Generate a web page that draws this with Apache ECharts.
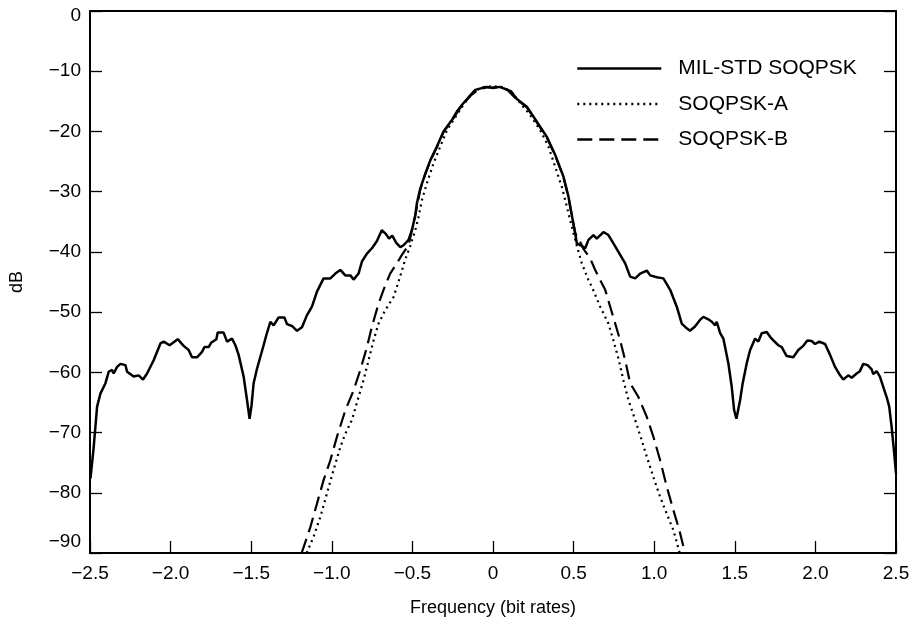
<!DOCTYPE html>
<html>
<head>
<meta charset="utf-8">
<script src="https://cdn.jsdelivr.net/npm/echarts@6/dist/echarts.min.js"></script>
<style>
html,body{margin:0;padding:0;background:#fff;}
#chart{width:913px;height:623px;}
</style>
</head>
<body>
<div id="chart"></div>
<script>
// ---- Data ----
var seriesNames = ['MIL-STD SOQPSK', 'SOQPSK-A', 'SOQPSK-B'];
var xTicks = [-2.5, -2.0, -1.5, -1.0, -0.5, 0, 0.5, 1.0, 1.5, 2.0, 2.5];
var yTicks = [0, -10, -20, -30, -40, -50, -60, -70, -80, -90];

var milFreq = [-2.497,-2.477,-2.456,-2.435,-2.404,-2.384,-2.363,-2.353,-2.332,-2.311,-2.280,-2.270,-2.229,-2.198,-2.171,-2.146,-2.105,-2.063,-2.043,-2.006,-1.956,-1.919,-1.888,-1.867,-1.836,-1.805,-1.790,-1.764,-1.749,-1.716,-1.708,-1.671,-1.650,-1.619,-1.598,-1.578,-1.547,-1.526,-1.510,-1.498,-1.485,-1.464,-1.423,-1.406,-1.381,-1.361,-1.330,-1.294,-1.278,-1.247,-1.216,-1.185,-1.154,-1.123,-1.092,-1.051,-1.009,-0.978,-0.947,-0.916,-0.885,-0.865,-0.834,-0.813,-0.782,-0.751,-0.720,-0.690,-0.665,-0.645,-0.625,-0.600,-0.575,-0.555,-0.524,-0.503,-0.482,-0.472,-0.451,-0.420,-0.389,-0.348,-0.307,-0.255,-0.224,-0.193,-0.141,-0.110,-0.070,-0.040,0.000,0.040,0.070,0.110,0.148,0.210,0.272,0.334,0.386,0.437,0.468,0.489,0.510,0.520,0.550,0.572,0.592,0.623,0.644,0.685,0.716,0.747,0.778,0.820,0.851,0.882,0.913,0.954,0.975,1.016,1.057,1.099,1.140,1.171,1.202,1.222,1.253,1.284,1.305,1.336,1.357,1.378,1.388,1.409,1.429,1.460,1.481,1.496,1.510,1.533,1.549,1.574,1.595,1.626,1.646,1.667,1.698,1.719,1.739,1.770,1.791,1.822,1.863,1.894,1.925,1.950,1.977,1.998,2.024,2.060,2.091,2.122,2.153,2.173,2.204,2.225,2.256,2.276,2.297,2.324,2.349,2.359,2.380,2.400,2.417,2.442,2.458,2.473,2.487,2.500];
var milDb = [-77.6,-72.4,-65.7,-63.5,-61.8,-59.9,-59.6,-60.2,-59.1,-58.6,-58.8,-59.9,-60.7,-60.5,-61.2,-60.2,-58.0,-55.2,-54.9,-55.5,-54.5,-55.6,-56.3,-57.5,-57.5,-56.6,-55.8,-55.8,-55.1,-54.5,-53.4,-53.4,-54.9,-54.4,-55.5,-57.1,-60.7,-64.6,-67.7,-65.5,-61.8,-59.4,-55.5,-53.8,-51.6,-52.2,-50.9,-50.9,-52.0,-52.3,-53.1,-52.5,-50.5,-49.1,-46.6,-44.4,-44.4,-43.6,-43.0,-43.9,-43.9,-44.6,-43.6,-41.6,-40.3,-39.4,-38.2,-36.4,-37.0,-37.8,-37.3,-38.5,-39.2,-38.9,-38.0,-36.4,-33.9,-31.9,-29.5,-27.0,-24.8,-22.5,-20.0,-18.1,-16.7,-15.6,-14.0,-13.1,-12.8,-12.6,-12.8,-12.6,-12.9,-13.3,-14.6,-15.9,-18.4,-20.9,-23.9,-27.5,-30.8,-33.9,-36.9,-38.6,-39.0,-39.4,-38.0,-37.2,-37.8,-36.7,-37.2,-38.6,-40.0,-41.9,-44.1,-44.4,-43.6,-43.1,-43.9,-44.2,-44.4,-46.3,-49.1,-51.9,-52.7,-53.1,-52.4,-51.3,-50.8,-51.2,-51.6,-52.2,-51.6,-53.5,-54.4,-58.5,-62.4,-66.3,-67.7,-64.6,-61.8,-58.5,-56.3,-54.4,-54.9,-53.5,-53.3,-54.1,-54.7,-55.5,-55.8,-57.3,-57.5,-56.3,-55.6,-54.7,-54.8,-55.3,-54.9,-55.3,-57.1,-59.1,-60.5,-61.2,-60.5,-60.9,-60.2,-59.8,-58.6,-58.8,-59.5,-60.3,-59.8,-60.7,-62.1,-64.1,-65.7,-69.1,-72.9,-76.8];

var aFreq = [-1.156,-1.113,-1.071,-1.030,-0.989,-0.947,-0.916,-0.875,-0.834,-0.803,-0.772,-0.741,-0.710,-0.669,-0.617,-0.576,-0.545,-0.513,-0.482,-0.462,-0.441,-0.410,-0.369,-0.327,-0.286,-0.245,-0.200,-0.162,-0.120,-0.070,-0.030,0.000,0.030,0.070,0.120,0.169,0.231,0.293,0.344,0.386,0.427,0.458,0.489,0.520,0.551,0.592,0.613,0.665,0.716,0.747,0.778,0.809,0.840,0.882,0.923,0.954,0.995,1.037,1.078,1.119,1.158];
var aDb = [-90.0,-87.3,-84.0,-80.1,-76.2,-72.4,-70.2,-67.9,-64.1,-61.3,-58.0,-54.7,-51.9,-49.7,-47.5,-44.1,-41.3,-39.0,-36.4,-34.2,-31.4,-28.6,-25.3,-22.5,-19.8,-18.1,-16.2,-14.8,-13.4,-12.7,-12.5,-12.6,-12.5,-12.7,-13.6,-15.3,-17.3,-19.8,-22.5,-25.9,-29.2,-32.5,-35.8,-39.0,-41.9,-44.7,-45.8,-49.1,-51.9,-54.7,-57.7,-61.3,-64.6,-67.9,-71.3,-74.0,-77.4,-80.7,-83.5,-86.2,-90.0];

var bFreq = [-1.187,-1.133,-1.092,-1.051,-1.009,-0.968,-0.916,-0.865,-0.823,-0.782,-0.751,-0.710,-0.679,-0.638,-0.596,-0.565,-0.524,-0.503,-0.482,-0.451,-0.420,-0.389,-0.348,-0.307,-0.255,-0.193,-0.141,-0.090,-0.040,0.000,0.040,0.090,0.148,0.210,0.272,0.334,0.386,0.437,0.468,0.489,0.510,0.540,0.561,0.603,0.634,0.665,0.696,0.727,0.758,0.789,0.820,0.851,0.902,0.954,0.995,1.037,1.078,1.119,1.156,1.191];
var bDb = [-90.0,-85.7,-81.8,-77.9,-74.6,-70.7,-66.3,-63.0,-59.6,-55.8,-52.4,-48.6,-46.3,-43.6,-41.9,-40.5,-38.9,-36.4,-33.9,-29.6,-27.1,-24.9,-22.6,-20.1,-18.2,-15.7,-14.1,-13.0,-12.7,-12.7,-12.6,-13.1,-14.7,-16.0,-18.5,-21.0,-24.0,-27.6,-30.9,-34.0,-36.9,-38.3,-39.5,-41.1,-43.0,-44.7,-46.3,-49.1,-51.9,-54.7,-58.0,-61.8,-64.1,-67.4,-70.7,-74.6,-79.0,-82.9,-86.2,-90.0];

function pairs(xs, ys){ return xs.map(function(x,i){ return [x, ys[i]]; }); }
function fmtNum(v, dec){
  if (v === 0) return '0';
  var s = Math.abs(v).toFixed(dec);
  return (v < 0 ? '\u2212' : '') + s;
}

var FONT = '"Liberation Sans", Arial, Helvetica, sans-serif';
var TICK_FS = 19;
var chart = echarts.init(document.getElementById('chart'), null, {renderer:'canvas'});

var axisCommon = {
  type: 'value',
  axisLine: {show: true, onZero: false, lineStyle: {color: '#000', width: 2}},
  axisTick: {show: true, inside: true, length: 12, lineStyle: {color: '#000', width: 1.3}},
  splitLine: {show: false}
};

chart.setOption({
  animation: false,
  backgroundColor: '#fff',
  textStyle: {fontFamily: FONT},
  grid: {left: 90, right: 17, top: 11, bottom: 70, containLabel: false},
  legend: {
    orient: 'vertical',
    left: 576, top: 58,
    itemWidth: 84, itemHeight: 14, itemGap: 14.5,
    padding: 0,
    data: seriesNames,
    itemStyle: {opacity: 0},
    lineStyle: {width: 2.6},
    textStyle: {fontSize: 21, color: '#000', fontFamily: FONT, padding: [0,0,0,12]}
  },
  xAxis: [
    Object.assign({}, axisCommon, {
      position: 'bottom', min: xTicks[0], max: xTicks[xTicks.length-1], interval: 0.5,
      axisLabel: {show: true, margin: 11, fontSize: TICK_FS, color: '#000', fontFamily: FONT,
        formatter: function(v){ return fmtNum(v, 1); }},
      name: 'Frequency (bit rates)', nameLocation: 'middle', nameGap: 46,
      nameTextStyle: {fontSize: 18, color: '#000', fontFamily: FONT}
    }),
    Object.assign({}, axisCommon, {
      position: 'top', min: xTicks[0], max: xTicks[xTicks.length-1], interval: 0.5,
      axisTick: {show: false}, axisLabel: {show: false}
    })
  ],
  yAxis: [
    Object.assign({}, axisCommon, {
      position: 'left', min: yTicks[yTicks.length-1], max: yTicks[0], interval: 10,
      axisLabel: {show: true, margin: 9, fontSize: TICK_FS, color: '#000', fontFamily: FONT,
        formatter: function(v){
          var t = fmtNum(v, 0);
          if (v === -90) return '{lo|' + t + '}';
          if (v === 0) return '{hi|' + t + '}';
          return t;
        },
        rich: {
          lo: {fontSize: TICK_FS, color: '#000', fontFamily: FONT, padding: [0,0,22,0]},
          hi: {fontSize: TICK_FS, color: '#000', fontFamily: FONT, padding: [10,0,0,0]}
        }
      },
      name: 'dB', nameLocation: 'middle', nameGap: 64, nameRotate: 90,
      nameTextStyle: {fontSize: 18, color: '#000', fontFamily: FONT}
    }),
    Object.assign({}, axisCommon, {
      position: 'right', min: yTicks[yTicks.length-1], max: yTicks[0], interval: 10,
      axisLabel: {show: false}
    })
  ],
  series: [
    {
      name: seriesNames[2], type: 'line', data: pairs(bFreq, bDb),
      symbol: 'none', smooth: false, z: 2,
      lineStyle: {color: '#000', width: 2.2, type: [15, 7]},
      itemStyle: {color: '#000'}
    },
    {
      name: seriesNames[1], type: 'line', data: pairs(aFreq, aDb),
      symbol: 'none', smooth: false, z: 3,
      lineStyle: {color: '#000', width: 2.2, type: [2, 4]},
      itemStyle: {color: '#000'}
    },
    {
      name: seriesNames[0], type: 'line', data: pairs(milFreq, milDb),
      symbol: 'none', smooth: false, z: 4,
      lineStyle: {color: '#000', width: 2.5, type: 'solid'},
      itemStyle: {color: '#000'}
    }
  ]
});
</script>
</body>
</html>
